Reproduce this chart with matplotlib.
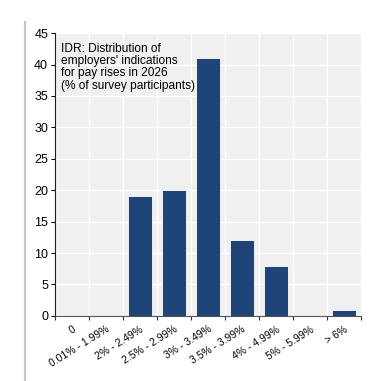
import numpy as np
import matplotlib.pyplot as plt
from matplotlib.lines import Line2D

plt.rcParams['font.family'] = ['Liberation Sans', 'DejaVu Sans']

# Data
categories = ["0", "0.01% - 1.99%", "2% - 2.49%", "2.5% - 2.99%", "3% - 3.49%",
              "3.5% - 3.99%", "4% - 4.99%", "5% - 5.99%", "> 6%"]
shares = [0, 0, 19, 20, 41, 12, 8, 0, 1]
yticks = [0, 5, 10, 15, 20, 25, 30, 35, 40, 45]
title = "IDR: Distribution of\nemployers' indications\nfor pay rises in 2026\n(% of survey participants)"

fig = plt.figure(figsize=(3.82, 3.81), dpi=100)
ax = fig.add_axes([0.144, 0.171, 0.801, 0.742])
ax.set_facecolor('#f0f0f0')

x = np.arange(len(categories))
ax.bar(x, shares, width=0.68, color='#1f4478', edgecolor='white', linewidth=0.6, zorder=3)

ax.set_xlim(-0.5, len(categories) - 0.5)
ax.set_ylim(0, 45)
ax.set_yticks(yticks)
ax.tick_params(axis='y', labelsize=9, length=3, width=0.8, direction='out', pad=2)

# ticks on category boundaries, labels on centres
ax.set_xticks(np.arange(len(categories) + 1) - 0.5)
ax.set_xticklabels([])
ax.set_xticks(x, minor=True)
ax.set_xticklabels(categories, minor=True, rotation=32, ha='right',
                   rotation_mode='anchor', fontsize=7.5)
ax.tick_params(axis='x', which='major', length=3, width=0.8, color='#333333')
ax.tick_params(axis='x', which='minor', length=0, pad=6)

ax.grid(True, which='major', color='white', linewidth=1.0, zorder=0)
for s in ['top', 'right']:
    ax.spines[s].set_visible(False)
ax.spines['left'].set_color('#222222')
ax.spines['bottom'].set_color('#555555')

ax.text(0.02, 0.965, title, transform=ax.transAxes, va='top', ha='left',
        fontsize=8.6, linespacing=1.02, zorder=4)

# grey frame line on the left of the figure
fig.add_artist(Line2D([25 / 382, 25 / 382], [0, 1 - 22 / 381],
                      transform=fig.transFigure, color='#c8c8c8', linewidth=1.5))

fig.savefig('out.png', dpi=100)
